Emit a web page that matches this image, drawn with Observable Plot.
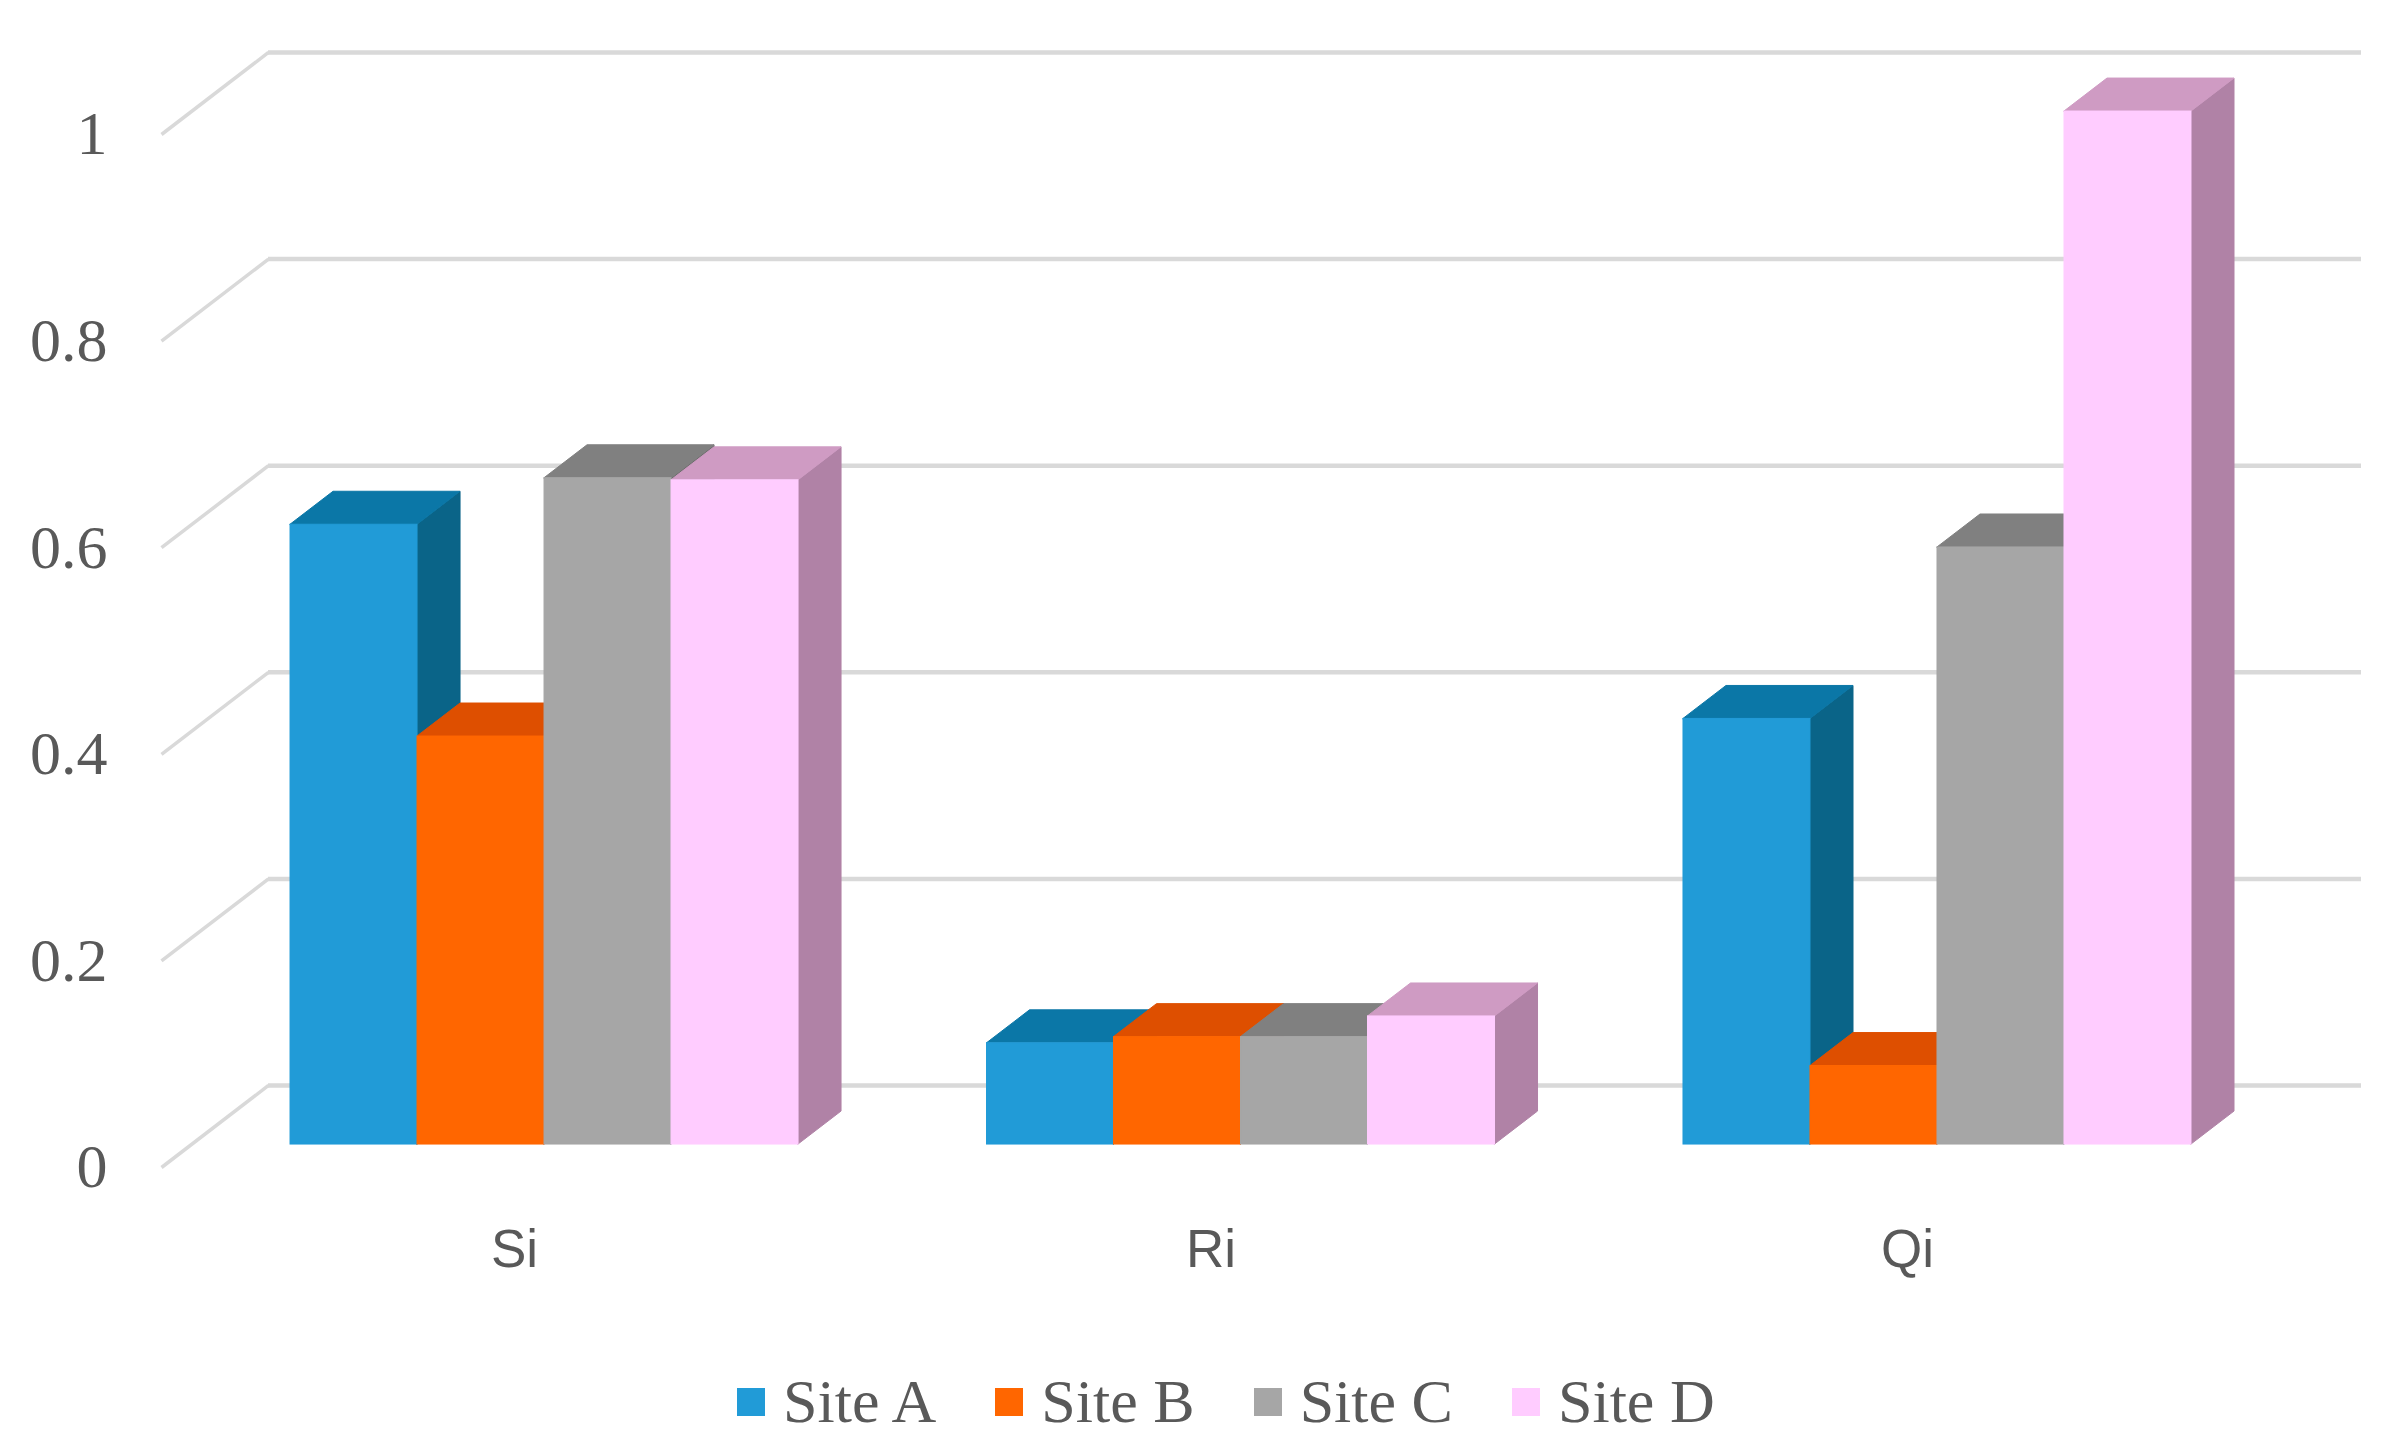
<!DOCTYPE html>
<html>
<head>
<meta charset="utf-8">
<script src="https://cdn.jsdelivr.net/npm/d3@7"></script>
<script src="https://cdn.jsdelivr.net/npm/@observablehq/plot@0.6"></script>
<style>
  html, body { margin: 0; padding: 0; background: #ffffff; }
  #chart svg { display: block; }
  #legend { height: 104px; display: flex; align-items: center; padding-left: 737px; padding-top: 30px; box-sizing: border-box; }
  #legend * { font-family: "Liberation Serif", "Times New Roman", serif !important; font-size: 62px !important; color: #595959 !important; }
  #legend svg { margin-right: 18px !important; }
  #legend [class$="-swatch"] { margin-right: 59px !important; }
</style>
</head>
<body>
<div id="chart"></div>
<div id="legend"></div>
<script>
// ---- data ----
const categories = ["Si", "Ri", "Qi"];
const sites = ["Site A", "Site B", "Site C", "Site D"];
const siteA = [0.600, 0.098, 0.412];
const siteB = [0.395, 0.104, 0.076];
const siteC = [0.645, 0.104, 0.578];
const siteD = [0.643, 0.124, 1.000];
const yTicks = [0, 0.2, 0.4, 0.6, 0.8, 1];
const yTickLabels = ["0", "0.2", "0.4", "0.6", "0.8", "1"];

// ---- styles ----
const frontColors = ["#219BD7", "#FF6600", "#A6A6A6", "#FFCCFF"];
const topColors   = ["#0B77A7", "#DE4F00", "#808080", "#CF9BC3"];
const sideColors  = ["#0A6488", "#B84200", "#6E6E6E", "#B082A6"];
const textColor = "#595959";
const gridColor = "#D9D9D9";

// ---- 3D projection geometry (in scale units) ----
const DU = 0.8425, DV = 0.0794;   // full depth offset (front plane -> back wall)
const D1 = 0.28, D2 = 0.682;      // bar front / back depth
const GROUP0 = 0.78, GSTEP = 5.484;
const WALL_RIGHT = 16.48;

const series = [siteA, siteB, siteC, siteD];
const fronts = [], sides = [], tops = [];
categories.forEach((cat, g) => {
  sites.forEach((s, j) => {
    const v = series[j][g];
    const xl = GROUP0 + g * GSTEP + j, xr = xl + 1;
    const id = cat + "-" + s;
    fronts.push({x1: xl + D1 * DU, x2: xr + D1 * DU, y1: D1 * DV, y2: v + D1 * DV, fill: frontColors[j]});
    sides.push({id, x: xr + D1 * DU, y1: D1 * DV, y2: v + D1 * DV, fill: sideColors[j]});
    sides.push({id, x: xr + D2 * DU, y1: D2 * DV, y2: v + D2 * DV, fill: sideColors[j]});
    tops.push({id, y: v + D1 * DV, x1: xl + D1 * DU, x2: xr + D1 * DU, fill: topColors[j]});
    tops.push({id, y: v + D2 * DV, x1: xl + D2 * DU, x2: xr + D2 * DU, fill: topColors[j]});
  });
});
const ticks = yTicks.map((t, i) => ({t, label: yTickLabels[i]}));
const catLabels = categories.map((c, g) => ({c, x: GROUP0 + g * GSTEP + 2}));

const chart = Plot.plot({
  width: 2396,
  height: 1350,
  marginLeft: 161,
  marginRight: 35,
  marginTop: 134,
  marginBottom: 183,
  x: {type: "linear", domain: [0, WALL_RIGHT + DU], axis: null},
  y: {type: "linear", domain: [0, 1], axis: null},
  color: {type: "identity"},
  marks: [
    // back-wall gridlines
    Plot.ruleY(ticks, {y: d => d.t + DV, x1: DU, x2: WALL_RIGHT + DU, stroke: gridColor, strokeWidth: 4.5}),
    // side-wall diagonals
    Plot.link(ticks, {x1: 0, y1: d => d.t, x2: DU, y2: d => d.t + DV, stroke: gridColor, strokeWidth: 3.5}),
    // bar faces
    Plot.area(sides, {x1: "x", y1: "y1", y2: "y2", z: "id", fill: "fill", stroke: "fill", strokeWidth: 1, curve: "linear"}),
    Plot.area(tops, {y1: "y", x1: "x1", x2: "x2", z: "id", fill: "fill", stroke: "fill", strokeWidth: 1, curve: "linear"}),
    Plot.rect(fronts, {x1: "x1", x2: "x2", y1: "y1", y2: "y2", fill: "fill", stroke: "fill", strokeWidth: 1}),
    // y tick labels
    Plot.text(ticks, {x: 0, y: "t", text: "label", dx: -54, textAnchor: "end", fill: textColor,
      fontSize: 62, fontFamily: "'Liberation Serif', 'Times New Roman', serif"}),
    // category labels
    Plot.text(catLabels, {x: "x", y: 0, text: "c", dy: 83, fill: textColor,
      fontSize: 53, fontFamily: "'Liberation Sans', Arial, sans-serif"})
  ]
});
document.getElementById("chart").appendChild(chart);

const legend = Plot.legend({
  color: {type: "ordinal", domain: sites, range: frontColors},
  legend: "swatches",
  swatchSize: 28
});
document.getElementById("legend").appendChild(legend);
</script>
</body>
</html>
